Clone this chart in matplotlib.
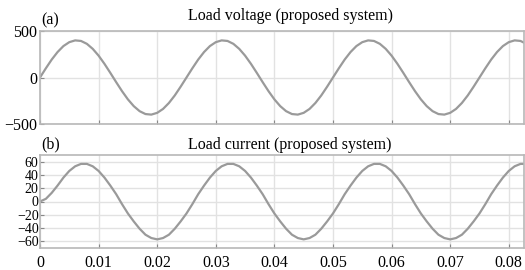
import matplotlib
matplotlib.use("Agg")
import matplotlib.pyplot as plt
import numpy as np

# time axis (s), sampled every 1 ms
time_ms = list(range(0, 84))

voltage = [0, 99, 193, 274, 338, 380, 399, 393, 362, 308, 235, 147, 50, -50, -147, -235, -308, -362, -393, -399, -380, -338, -274, -193, -99,
           0, 99, 193, 274, 338, 380, 399, 393, 362, 308, 235, 147, 50, -50, -147, -235, -308, -362, -393, -399, -380, -338, -274, -193, -99,
           0, 99, 193, 274, 338, 380, 399, 393, 362, 308, 235, 147, 50, -50, -147, -235, -308, -362, -393, -399, -380, -338, -274, -193, -99,
           0, 99, 193, 274, 338, 380, 399, 393, 362]

current = [0, 4, 13, 24, 36, 46, 53, 56.6, 56.6, 53, 46, 36, 24, 11, -4, -18, -30, -41, -50, -55, -57, -55, -50, -41, -30,
           -18, -4, 11, 24, 36, 46, 53, 56.6, 56.6, 53, 46, 36, 24, 11, -4, -18, -30, -41, -50, -55, -57, -55, -50, -41, -30,
           -18, -4, 11, 24, 36, 46, 53, 56.6, 56.6, 53, 46, 36, 24, 11, -4, -18, -30, -41, -50, -55, -57, -55, -50, -41, -30,
           -18, -4, 11, 24, 36, 46, 53, 56.6, 56.6]

x_ticks = [0, 0.01, 0.02, 0.03, 0.04, 0.05, 0.06, 0.07, 0.08]
x_tick_labels = ["0", "0.01", "0.02", "0.03", "0.04", "0.05", "0.06", "0.07", "0.08"]
v_ticks = [-500, 0, 500]
i_ticks = [-60, -40, -20, 0, 20, 40, 60]

titles = ["Load voltage (proposed system)", "Load current (proposed system)"]
panel_tags = ["(a)", "(b)"]

plt.rcParams['font.family'] = ['Liberation Serif', 'DejaVu Serif']

t = np.array(time_ms) / 1000.0

fig = plt.figure(figsize=(5.25, 2.7), dpi=100)
ax1 = fig.add_axes([40/525, 1-124/270, 484/525, 93/270])
ax2 = fig.add_axes([40/525, 1-248/270, 484/525, 93/270])

line_col = "#9a9a9a"
grid_col = "#e2e2e2"
spine_col = "#b8b8b8"

for ax, y, yt, yl, title, tag, pad in [(ax1, voltage, v_ticks, (-500, 500), titles[0], panel_tags[0], 8),
                                        (ax2, current, i_ticks, (-70, 70), titles[1], panel_tags[1], 4)]:
    ax.plot(t, y, color=line_col, lw=1.6, solid_capstyle='round')
    ax.set_xlim(0, 0.0826)
    ax.set_ylim(*yl)
    ax.set_yticks(yt)
    ax.set_xticks(x_ticks)
    ax.grid(True, color=grid_col, lw=1.0)
    for s in ax.spines.values():
        s.set_color(spine_col)
        s.set_linewidth(1.2)
    ax.tick_params(direction='in', length=3, color="#888888", labelsize=11.5, pad=2)
    ax.set_title(title, fontsize=11.5, x=0.517, pad=pad)
    ax.text(0.003, 1.03, tag, transform=ax.transAxes, fontsize=11.5, va='bottom', ha='left')

ax1.set_xticklabels([])
ax2.set_xticklabels(x_tick_labels)
ax2.tick_params(axis='x', pad=5)
ax2.tick_params(axis='y', labelsize=10, pad=1)

fig.savefig("out.png", dpi=100)
